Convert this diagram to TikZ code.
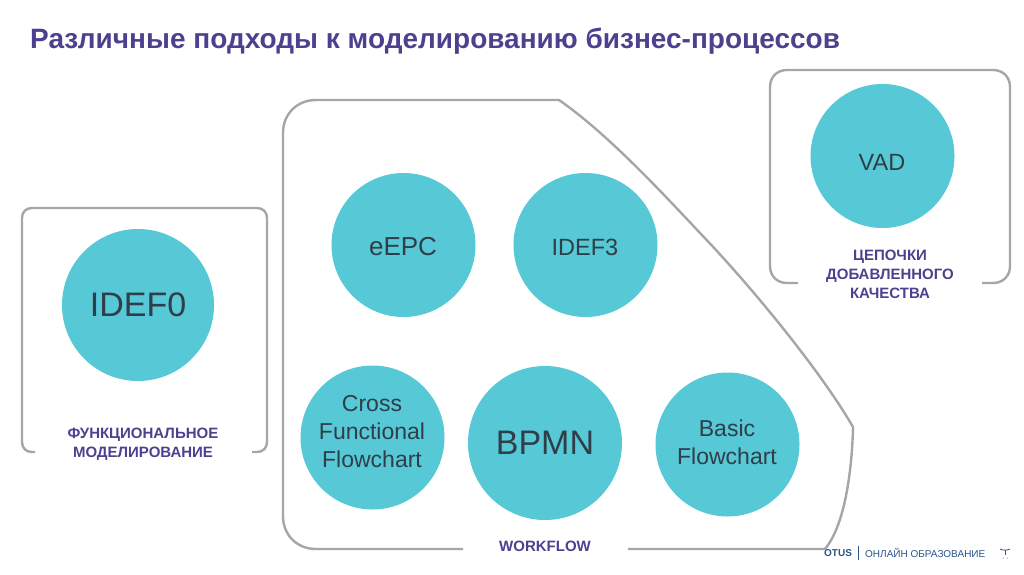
\documentclass[tikz,border=0pt]{standalone}
\usepackage{fontspec}
\setmainfont{Liberation Sans}
\definecolor{titlepurple}{HTML}{4F3F8F}
\definecolor{bubble}{HTML}{56C8D6}
\definecolor{bubbletext}{HTML}{2F3E48}
\definecolor{framegray}{HTML}{A6A6A6}
\definecolor{otusblue}{HTML}{2A5587}
\tikzset{
  bubble/.style={circle, fill=bubble, draw=none, inner sep=0pt, minimum size=#1*2pt},
  bubbletext/.style={inner sep=0pt, align=center, text=bubbletext},
  frameline/.style={draw=framegray, line width=2.4pt},
  grouplabel/.style={font=\bfseries\fontsize{15}{19}\selectfont, text=titlepurple, align=center}
}
\begin{document}
\begin{tikzpicture}[x=1pt, y=-1pt]
  \useasboundingbox (0,0) rectangle (1024,574);

  % Title
  \node[anchor=west, inner sep=0pt, text=titlepurple, font=\bfseries\fontsize{28}{32}\selectfont]
    (title) at (30,41) {Различные подходы к моделированию бизнес-процессов};

  % Frames, open where the labels sit
  \draw[frameline] (35,452) -- (32,452) .. controls (26,452) and (22,448) .. (22,442)
    -- (22,218) .. controls (22,212) and (26,208) .. (32,208) -- (257,208)
    .. controls (263,208) and (267,212) .. (267,218) -- (267,442)
    .. controls (267,448) and (263,452) .. (257,452) -- (252,452);
  \draw[frameline] (798,283) -- (787,283) .. controls (777,283) and (770,276) .. (770,266)
    -- (770,87) .. controls (770,77) and (777,70) .. (787,70) -- (993,70)
    .. controls (1003,70) and (1010,77) .. (1010,87) -- (1010,266)
    .. controls (1010,276) and (1003,283) .. (993,283) -- (982,283);
  \draw[frameline] (463,549) -- (316,549) .. controls (297,549) and (283,535) .. (283,516)
    -- (283,133) .. controls (283,114) and (297,100) .. (316,100) -- (559,100)
    .. controls (605,132) and (655,185) .. (700,233)
    .. controls (750,285) and (820,370) .. (853,427)
    .. controls (852,470) and (845,525) .. (825,549) -- (628,549);

  % Bubbles
  \node[bubble=76] (idefzero) at (138,305) {};
  \node[bubble=72] (eepc) at (403.5,245) {};
  \node[bubble=72] (idefthree) at (585.5,245) {};
  \node[bubble=72] (vad) at (882.5,156) {};
  \node[bubble=72] (cross) at (372.5,437.5) {};
  \node[bubble=77] (bpmn) at (545,443) {};
  \node[bubble=72] (basic) at (727.5,444.5) {};

  % Bubble texts
  \node[bubbletext, font=\fontsize{34}{38}\selectfont] (idefzerotext) at (138,305) {IDEF0};
  \node[bubbletext, font=\fontsize{26}{30}\selectfont] (eepctext) at (403,247) {eEPC};
  \node[bubbletext, font=\fontsize{23.5}{28}\selectfont] (idefthreetext) at (585,247) {IDEF3};
  \node[bubbletext, font=\fontsize{23.5}{28}\selectfont] (vadtext) at (882,162) {VAD};
  \node[bubbletext, font=\fontsize{23}{28}\selectfont] (crosstext) at (372,432) {Cross\\Functional\\Flowchart};
  \node[bubbletext, font=\fontsize{34}{38}\selectfont] (bpmntext) at (545,443) {BPMN};
  \node[bubbletext, font=\fontsize{23}{28}\selectfont] (basictext) at (727,442) {Basic\\Flowchart};

  % Group labels
  \node[grouplabel] (funclabel) at (143,444) {ФУНКЦИОНАЛЬНОЕ\\МОДЕЛИРОВАНИЕ};
  \node[grouplabel] (valuelabel) at (890,274) {ЦЕПОЧКИ\\ДОБАВЛЕННОГО\\КАЧЕСТВА};
  \node[grouplabel] (flowlabel) at (545,546) {WORKFLOW};

  % Footer
  \node[anchor=west, inner sep=0pt, text=otusblue, font=\bfseries\fontsize{10}{12}\selectfont]
    (otus) at (824,553.5) {OTUS};
  \draw[otusblue, line width=1pt] (858,546) -- (858,560);
  \node[anchor=west, inner sep=0pt, text=otusblue, font=\fontsize{10}{12}\selectfont]
    (online) at (865,553.5) {ОНЛАЙН ОБРАЗОВАНИЕ};
  \draw[otusblue, line width=0.8pt] (1000,549) .. controls (1003,550.5) and (1007,550.5) .. (1010,549);
  \draw[otusblue, line width=0.8pt] (1005,550) -- (1005,555);
  \fill[otusblue] (1003,558) circle (0.5) (1007,558) circle (0.5);
\end{tikzpicture}
\end{document}
